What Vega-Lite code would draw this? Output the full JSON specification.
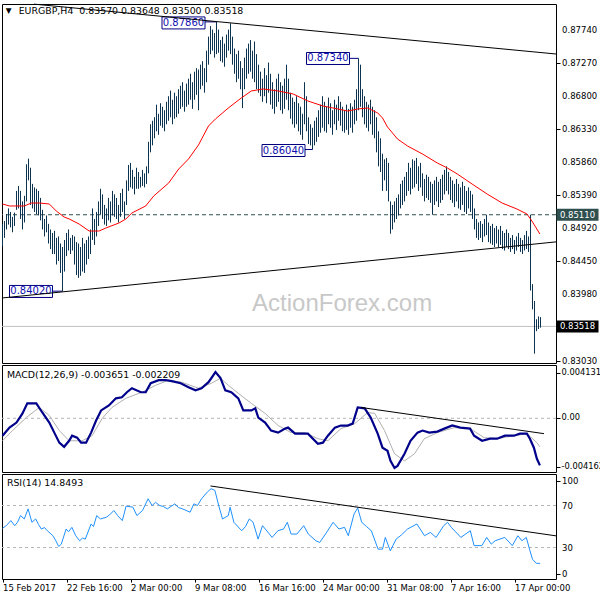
{
"$schema": "https://vega.github.io/schema/vega-lite/v6.json",
"background": "white",
"padding": {"left": -3, "top": 3, "right": 0, "bottom": 0},
"bounds": "flush",
"spacing": 2,
"config": {
  "font": "DejaVu Sans",
  "view": {"stroke": "#000000", "strokeWidth": 1},
  "axis": {"labelFont": "DejaVu Sans", "labelFontSize": 8.5, "labelColor": "#000000", "tickColor": "#000000", "domain": false, "grid": false, "tickSize": 4, "labelPadding": 2, "labelOverlap": false, "labelBound": false}
},
"resolve": {"scale": {"x": "independent", "y": "independent"}},
"datasets": {
  "one": [{"k": 1}],
  "ylab": [{"p":0.8774,"t":"0.87740"},{"p":0.8727,"t":"0.87270"},{"p":0.868,"t":"0.86800"},{"p":0.8633,"t":"0.86330"},{"p":0.8586,"t":"0.85860"},{"p":0.8539,"t":"0.85390"},{"p":0.8492,"t":"0.84920"},{"p":0.8445,"t":"0.84450"},{"p":0.8398,"t":"0.83980"},{"p":0.8303,"t":"0.83030"}],
  "mlab": [{"v":0.00351,"t":"0.004131"},{"v":0,"t":"0.00"},{"v":-0.00378,"t":"-0.004162"}],
  "rlab": [{"v":93,"t":"100"},{"v":70,"t":"70"},{"v":30,"t":"30"},{"v":5,"t":"0"}],
  "bars": [
{"i":0,"h":0.8498,"l":0.8466},{"i":1,"h":0.8502,"l":0.8478},{"i":2,"h":0.8512,"l":0.849},{"i":3,"h":0.852,"l":0.8497},{"i":4,"h":0.8515,"l":0.8493},{"i":5,"h":0.8508,"l":0.8486},{"i":6,"h":0.8514,"l":0.8495},{"i":7,"h":0.8545,"l":0.8518},{"i":8,"h":0.8552,"l":0.852},{"i":9,"h":0.8545,"l":0.8505},
{"i":10,"h":0.853,"l":0.849},{"i":11,"h":0.8538,"l":0.85},{"i":12,"h":0.8583,"l":0.853},{"i":13,"h":0.8591,"l":0.856},{"i":14,"h":0.8578,"l":0.8525},{"i":15,"h":0.8555,"l":0.852},{"i":16,"h":0.855,"l":0.8515},{"i":17,"h":0.8548,"l":0.8512},{"i":18,"h":0.8545,"l":0.851},{"i":19,"h":0.8535,"l":0.8503},
{"i":20,"h":0.8518,"l":0.849},{"i":21,"h":0.8505,"l":0.848},{"i":22,"h":0.851,"l":0.8486},{"i":23,"h":0.8498,"l":0.847},{"i":24,"h":0.849,"l":0.8462},{"i":25,"h":0.8485,"l":0.8455},{"i":26,"h":0.8488,"l":0.8455},{"i":27,"h":0.8478,"l":0.844},{"i":28,"h":0.848,"l":0.8445},{"i":29,"h":0.847,"l":0.8428},
{"i":30,"h":0.8465,"l":0.8402},{"i":31,"h":0.8475,"l":0.843},{"i":32,"h":0.8485,"l":0.8452},{"i":33,"h":0.849,"l":0.846},{"i":34,"h":0.8478,"l":0.8455},{"i":35,"h":0.8482,"l":0.846},{"i":36,"h":0.848,"l":0.844},{"i":37,"h":0.8472,"l":0.8425},{"i":38,"h":0.847,"l":0.8421},{"i":39,"h":0.8465,"l":0.8424},
{"i":40,"h":0.8478,"l":0.843},{"i":41,"h":0.847,"l":0.8428},{"i":42,"h":0.8475,"l":0.844},{"i":43,"h":0.848,"l":0.8448},{"i":44,"h":0.849,"l":0.8455},{"i":45,"h":0.852,"l":0.8475},{"i":46,"h":0.8505,"l":0.8468},{"i":47,"h":0.8515,"l":0.848},{"i":48,"h":0.853,"l":0.8495},{"i":49,"h":0.8548,"l":0.8512},
{"i":50,"h":0.854,"l":0.8505},{"i":51,"h":0.8525,"l":0.8497},{"i":52,"h":0.852,"l":0.8495},{"i":53,"h":0.8535,"l":0.8503},{"i":54,"h":0.853,"l":0.85},{"i":55,"h":0.8545,"l":0.851},{"i":56,"h":0.854,"l":0.8508},{"i":57,"h":0.8535,"l":0.8505},{"i":58,"h":0.8525,"l":0.85},{"i":59,"h":0.8542,"l":0.8508},
{"i":60,"h":0.8548,"l":0.8515},{"i":61,"h":0.853,"l":0.8505},{"i":62,"h":0.856,"l":0.8525},{"i":63,"h":0.8582,"l":0.8545},{"i":64,"h":0.8585,"l":0.855},{"i":65,"h":0.8575,"l":0.8548},{"i":66,"h":0.8565,"l":0.854},{"i":67,"h":0.8578,"l":0.8548},{"i":68,"h":0.8572,"l":0.8548},{"i":69,"h":0.8565,"l":0.855},
{"i":70,"h":0.8575,"l":0.8552},{"i":71,"h":0.857,"l":0.855},{"i":72,"h":0.858,"l":0.8555},{"i":73,"h":0.8615,"l":0.857},{"i":74,"h":0.864,"l":0.86},{"i":75,"h":0.8645,"l":0.861},{"i":76,"h":0.865,"l":0.862},{"i":77,"h":0.8668,"l":0.863},{"i":78,"h":0.8655,"l":0.8625},{"i":79,"h":0.867,"l":0.8638},
{"i":80,"h":0.8665,"l":0.8635},{"i":81,"h":0.866,"l":0.863},{"i":82,"h":0.8672,"l":0.864},{"i":83,"h":0.868,"l":0.8645},{"i":84,"h":0.8688,"l":0.865},{"i":85,"h":0.8675,"l":0.864},{"i":86,"h":0.8685,"l":0.8648},{"i":87,"h":0.868,"l":0.865},{"i":88,"h":0.869,"l":0.8655},{"i":89,"h":0.8695,"l":0.8662},
{"i":90,"h":0.87,"l":0.8665},{"i":91,"h":0.8688,"l":0.8658},{"i":92,"h":0.8698,"l":0.8665},{"i":93,"h":0.8705,"l":0.8668},{"i":94,"h":0.8712,"l":0.8675},{"i":95,"h":0.87,"l":0.8662},{"i":96,"h":0.8715,"l":0.8675},{"i":97,"h":0.872,"l":0.8682},{"i":98,"h":0.8718,"l":0.866},{"i":99,"h":0.8725,"l":0.869},
{"i":100,"h":0.873,"l":0.8695},{"i":101,"h":0.872,"l":0.8685},{"i":102,"h":0.8745,"l":0.87},{"i":103,"h":0.8765,"l":0.8725},{"i":104,"h":0.878,"l":0.874},{"i":105,"h":0.8775,"l":0.8745},{"i":106,"h":0.877,"l":0.8735},{"i":107,"h":0.8786,"l":0.874},{"i":108,"h":0.8775,"l":0.8742},{"i":109,"h":0.876,"l":0.873},
{"i":110,"h":0.8765,"l":0.8728},{"i":111,"h":0.8755,"l":0.8722},{"i":112,"h":0.8768,"l":0.8735},{"i":113,"h":0.8775,"l":0.8745},{"i":114,"h":0.8784,"l":0.874},{"i":115,"h":0.8765,"l":0.8725},{"i":116,"h":0.8748,"l":0.8712},{"i":117,"h":0.874,"l":0.87},{"i":118,"h":0.8745,"l":0.8705},{"i":119,"h":0.873,"l":0.869},
{"i":120,"h":0.872,"l":0.8663},{"i":121,"h":0.8735,"l":0.869},{"i":122,"h":0.8748,"l":0.8705},{"i":123,"h":0.8755,"l":0.8712},{"i":124,"h":0.876,"l":0.8715},{"i":125,"h":0.8745,"l":0.8705},{"i":126,"h":0.8758,"l":0.87},{"i":127,"h":0.874,"l":0.869},{"i":128,"h":0.8725,"l":0.8685},{"i":129,"h":0.8715,"l":0.868},
{"i":130,"h":0.8705,"l":0.8672},{"i":131,"h":0.872,"l":0.868},{"i":132,"h":0.871,"l":0.867},{"i":133,"h":0.8728,"l":0.8685},{"i":134,"h":0.8712,"l":0.8668},{"i":135,"h":0.87,"l":0.8662},{"i":136,"h":0.869,"l":0.8655},{"i":137,"h":0.8705,"l":0.8665},{"i":138,"h":0.8712,"l":0.8672},{"i":139,"h":0.87,"l":0.866},
{"i":140,"h":0.8695,"l":0.8655},{"i":141,"h":0.8705,"l":0.8662},{"i":142,"h":0.8725,"l":0.8675},{"i":143,"h":0.8705,"l":0.866},{"i":144,"h":0.8685,"l":0.8648},{"i":145,"h":0.8678,"l":0.864},{"i":146,"h":0.8672,"l":0.8635},{"i":147,"h":0.868,"l":0.864},{"i":148,"h":0.867,"l":0.863},{"i":149,"h":0.8665,"l":0.8625},
{"i":150,"h":0.8655,"l":0.8618},{"i":151,"h":0.87,"l":0.864},{"i":152,"h":0.868,"l":0.863},{"i":153,"h":0.865,"l":0.8612},{"i":154,"h":0.864,"l":0.861},{"i":155,"h":0.8635,"l":0.8604},{"i":156,"h":0.8645,"l":0.861},{"i":157,"h":0.865,"l":0.8615},{"i":158,"h":0.866,"l":0.8622},{"i":159,"h":0.8668,"l":0.8628},
{"i":160,"h":0.868,"l":0.8635},{"i":161,"h":0.8672,"l":0.863},{"i":162,"h":0.8665,"l":0.8628},{"i":163,"h":0.8678,"l":0.864},{"i":164,"h":0.867,"l":0.8635},{"i":165,"h":0.866,"l":0.8625},{"i":166,"h":0.8675,"l":0.864},{"i":167,"h":0.8668,"l":0.8632},{"i":168,"h":0.868,"l":0.8645},{"i":169,"h":0.8672,"l":0.8638},
{"i":170,"h":0.8665,"l":0.863},{"i":171,"h":0.866,"l":0.8628},{"i":172,"h":0.8668,"l":0.8632},{"i":173,"h":0.8662,"l":0.8625},{"i":174,"h":0.867,"l":0.8635},{"i":175,"h":0.8665,"l":0.8628},{"i":176,"h":0.8675,"l":0.864},{"i":177,"h":0.869,"l":0.8645},{"i":178,"h":0.8734,"l":0.866},{"i":179,"h":0.8725,"l":0.8665},
{"i":180,"h":0.869,"l":0.865},{"i":181,"h":0.868,"l":0.864},{"i":182,"h":0.8672,"l":0.8635},{"i":183,"h":0.8668,"l":0.863},{"i":184,"h":0.8675,"l":0.864},{"i":185,"h":0.8665,"l":0.8625},{"i":186,"h":0.866,"l":0.862},{"i":187,"h":0.865,"l":0.86},{"i":188,"h":0.863,"l":0.858},{"i":189,"h":0.862,"l":0.8572},
{"i":190,"h":0.8598,"l":0.8545},{"i":191,"h":0.859,"l":0.856},{"i":192,"h":0.8592,"l":0.8545},{"i":193,"h":0.8585,"l":0.853},{"i":194,"h":0.853,"l":0.8484},{"i":195,"h":0.8525,"l":0.849},{"i":196,"h":0.853,"l":0.85},{"i":197,"h":0.8535,"l":0.8505},{"i":198,"h":0.854,"l":0.851},{"i":199,"h":0.8555,"l":0.852},
{"i":200,"h":0.856,"l":0.8525},{"i":201,"h":0.8565,"l":0.853},{"i":202,"h":0.8572,"l":0.8538},{"i":203,"h":0.8585,"l":0.8545},{"i":204,"h":0.8578,"l":0.854},{"i":205,"h":0.859,"l":0.8548},{"i":206,"h":0.8588,"l":0.855},{"i":207,"h":0.8592,"l":0.8555},{"i":208,"h":0.858,"l":0.8545},{"i":209,"h":0.8585,"l":0.855},
{"i":210,"h":0.857,"l":0.8538},{"i":211,"h":0.8562,"l":0.853},{"i":212,"h":0.8568,"l":0.8535},{"i":213,"h":0.8565,"l":0.8532},{"i":214,"h":0.8558,"l":0.8528},{"i":215,"h":0.8555,"l":0.8511},{"i":216,"h":0.856,"l":0.8525},{"i":217,"h":0.8565,"l":0.853},{"i":218,"h":0.8558,"l":0.8522},{"i":219,"h":0.8562,"l":0.8528},
{"i":220,"h":0.8568,"l":0.8532},{"i":221,"h":0.8575,"l":0.854},{"i":222,"h":0.858,"l":0.8545},{"i":223,"h":0.8572,"l":0.854},{"i":224,"h":0.8565,"l":0.8532},{"i":225,"h":0.856,"l":0.8528},{"i":226,"h":0.8555,"l":0.8522},{"i":227,"h":0.8562,"l":0.853},{"i":228,"h":0.8555,"l":0.852},{"i":229,"h":0.855,"l":0.8518},
{"i":230,"h":0.8558,"l":0.8525},{"i":231,"h":0.8552,"l":0.8515},{"i":232,"h":0.8545,"l":0.8512},{"i":233,"h":0.855,"l":0.852},{"i":234,"h":0.8545,"l":0.8515},{"i":235,"h":0.854,"l":0.8505},{"i":236,"h":0.852,"l":0.849},{"i":237,"h":0.8505,"l":0.8478},{"i":238,"h":0.85,"l":0.8475},{"i":239,"h":0.8502,"l":0.8478},
{"i":240,"h":0.8498,"l":0.8472},{"i":241,"h":0.8505,"l":0.848},{"i":242,"h":0.8511,"l":0.8482},{"i":243,"h":0.85,"l":0.8472},{"i":244,"h":0.8495,"l":0.847},{"i":245,"h":0.8498,"l":0.8468},{"i":246,"h":0.8492,"l":0.8465},{"i":247,"h":0.8495,"l":0.847},{"i":248,"h":0.849,"l":0.8465},{"i":249,"h":0.8495,"l":0.8468},
{"i":250,"h":0.8488,"l":0.8462},{"i":251,"h":0.8485,"l":0.846},{"i":252,"h":0.849,"l":0.8465},{"i":253,"h":0.8485,"l":0.8462},{"i":254,"h":0.8478,"l":0.8458},{"i":255,"h":0.8482,"l":0.8462},{"i":256,"h":0.8475,"l":0.8455},{"i":257,"h":0.848,"l":0.846},{"i":258,"h":0.8485,"l":0.8465},{"i":259,"h":0.8478,"l":0.8458},
{"i":260,"h":0.8475,"l":0.8455},{"i":261,"h":0.8482,"l":0.846},{"i":262,"h":0.8488,"l":0.8462},{"i":263,"h":0.848,"l":0.8458},{"i":264,"h":0.8511,"l":0.8403},{"i":265,"h":0.8412,"l":0.8376},{"i":266,"h":0.8388,"l":0.8313},{"i":267,"h":0.8362,"l":0.8345},{"i":268,"h":0.8366,"l":0.8348},{"i":269,"h":0.8365,"l":0.835}
  ],
  "ma": [
{"i":0,"p":0.85263},{"i":3.5,"p":0.85235},{"i":10.9,"p":0.85235},{"i":14.4,"p":0.85277},{"i":18.4,"p":0.85277},{"i":23.4,"p":0.85263},{"i":26.9,"p":0.85163},{"i":30.8,"p":0.85078},{"i":33.3,"p":0.8505},{"i":38.3,"p":0.84978},{"i":43.3,"p":0.84878},{"i":48.3,"p":0.84878},{"i":51.7,"p":0.84921},{"i":58.2,"p":0.84992},{"i":61.7,"p":0.8505},{"i":64.7,"p":0.85135},{"i":71.6,"p":0.85235},{"i":75.6,"p":0.85377},{"i":83.1,"p":0.85563},{"i":88.1,"p":0.85762},{"i":93,"p":0.85905},{"i":98,"p":0.86105},{"i":103,"p":0.86376},{"i":106.5,"p":0.86476},{"i":112.9,"p":0.86632},{"i":119.4,"p":0.86775},{"i":124.4,"p":0.86875},{"i":130.3,"p":0.86903},{"i":137.8,"p":0.86875},{"i":145.3,"p":0.86832},{"i":152.7,"p":0.86732},{"i":160.2,"p":0.86661},{"i":167.7,"p":0.86618},{"i":172.6,"p":0.86589},{"i":177.6,"p":0.86618},{"i":182.6,"p":0.86632},{"i":187.6,"p":0.86561},{"i":190,"p":0.8649},{"i":192.5,"p":0.86361},{"i":197.5,"p":0.8619},{"i":202.5,"p":0.8609},{"i":210,"p":0.85976},{"i":217.4,"p":0.85848},{"i":222.4,"p":0.85777},{"i":227.4,"p":0.85691},{"i":234.8,"p":0.85548},{"i":242.3,"p":0.85406},{"i":249.8,"p":0.85277},{"i":257.2,"p":0.85192},{"i":262.2,"p":0.85121},{"i":264.7,"p":0.85021},{"i":268.7,"p":0.84835}
  ],
  "macd": [
{"i":0,"v":-0.00135},{"i":3.5,"v":-0.00072},{"i":7,"v":-0.00033},{"i":10,"v":0.00038},{"i":12.4,"v":0.00116},{"i":16.9,"v":0.00116},{"i":19.9,"v":0.00045},{"i":23.4,"v":-0.00033},{"i":25.9,"v":-0.00111},{"i":28.4,"v":-0.00189},{"i":30.8,"v":-0.00221},{"i":33.3,"v":-0.00174},{"i":34.8,"v":-0.00135},{"i":37.3,"v":-0.0015},{"i":39.3,"v":-0.00189},{"i":41.8,"v":-0.00189},{"i":44.3,"v":-0.00111},{"i":46.8,"v":-0.00017},{"i":49.3,"v":0.00061},{"i":53.2,"v":0.001},{"i":56.7,"v":0.00155},{"i":59.7,"v":0.00163},{"i":62.2,"v":0.00202},{"i":64.7,"v":0.00233},{"i":69.2,"v":0.00202},{"i":71.6,"v":0.00202},{"i":74.1,"v":0.00272},{"i":78.1,"v":0.00296},{"i":81.6,"v":0.00296},{"i":84.6,"v":0.00288},{"i":89.1,"v":0.00272},{"i":93,"v":0.00241},{"i":96.5,"v":0.00217},{"i":99.5,"v":0.00233},{"i":103,"v":0.0028},{"i":106.5,"v":0.00358},{"i":109,"v":0.00311},{"i":111.4,"v":0.00217},{"i":114.4,"v":0.00202},{"i":117.9,"v":0.00155},{"i":120.4,"v":0.00061},{"i":124.4,"v":0.00061},{"i":126.4,"v":0.00077},{"i":127.9,"v":0.00006},{"i":131.3,"v":-0.00033},{"i":134.3,"v":-0.00095},{"i":137.8,"v":-0.00111},{"i":141.3,"v":-0.0008},{"i":142.8,"v":-0.00072},{"i":146.3,"v":-0.00119},{"i":152.7,"v":-0.00119},{"i":157.7,"v":-0.00197},{"i":160.2,"v":-0.00189},{"i":162.7,"v":-0.00135},{"i":166.2,"v":-0.00072},{"i":169.2,"v":-0.00056},{"i":172.6,"v":-0.00056},{"i":175.1,"v":-0.00041},{"i":177.6,"v":0.00084},{"i":181.1,"v":0.00077},{"i":184.1,"v":0.00006},{"i":187.6,"v":-0.00119},{"i":190,"v":-0.00228},{"i":192.5,"v":-0.00252},{"i":194,"v":-0.0033},{"i":196,"v":-0.00385},{"i":197.5,"v":-0.00369},{"i":201,"v":-0.00275},{"i":204,"v":-0.00174},{"i":207.5,"v":-0.00111},{"i":210,"v":-0.00095},{"i":213.4,"v":-0.00111},{"i":217.4,"v":-0.00103},{"i":220.9,"v":-0.0008},{"i":224.9,"v":-0.00056},{"i":228.9,"v":-0.00072},{"i":233.8,"v":-0.0008},{"i":235.8,"v":-0.00135},{"i":239.8,"v":-0.00174},{"i":243.8,"v":-0.00158},{"i":247.3,"v":-0.00158},{"i":251.2,"v":-0.00135},{"i":255.7,"v":-0.00135},{"i":258.7,"v":-0.00119},{"i":262.2,"v":-0.00119},{"i":263.7,"v":-0.00158},{"i":265.7,"v":-0.00228},{"i":267.2,"v":-0.00314},{"i":268.7,"v":-0.00365}
  ],
  "sig": [
{"i":0,"v":-0.00174},{"i":5,"v":-0.00095},{"i":11.9,"v":0.00006},{"i":18.4,"v":0.00084},{"i":23.4,"v":0.00022},{"i":28.4,"v":-0.00095},{"i":33.3,"v":-0.00174},{"i":39.8,"v":-0.00174},{"i":44.8,"v":-0.00135},{"i":49.8,"v":-0.00002},{"i":54.7,"v":0.00084},{"i":61.7,"v":0.00155},{"i":69.7,"v":0.00202},{"i":76.6,"v":0.00256},{"i":83.1,"v":0.00296},{"i":89.6,"v":0.0028},{"i":98,"v":0.00233},{"i":104.5,"v":0.00272},{"i":109,"v":0.00311},{"i":112.9,"v":0.00256},{"i":117.9,"v":0.00194},{"i":124.4,"v":0.00116},{"i":131.3,"v":0.00038},{"i":137.8,"v":-0.00056},{"i":144.3,"v":-0.00111},{"i":151.2,"v":-0.00111},{"i":157.7,"v":-0.00158},{"i":162.7,"v":-0.00174},{"i":169.2,"v":-0.0008},{"i":176.1,"v":-0.00041},{"i":182.6,"v":0.00045},{"i":186.1,"v":0.00038},{"i":191,"v":-0.00095},{"i":196,"v":-0.00275},{"i":201,"v":-0.0033},{"i":206,"v":-0.00275},{"i":210.9,"v":-0.00158},{"i":217.4,"v":-0.00111},{"i":225.9,"v":-0.00072},{"i":233.8,"v":-0.0008},{"i":240.8,"v":-0.0015},{"i":247.3,"v":-0.00158},{"i":255.7,"v":-0.00135},{"i":262.2,"v":-0.00119},{"i":267.2,"v":-0.00189},{"i":268.7,"v":-0.00221}
  ],
  "rsi": [
{"i":0,"v":48.3},{"i":2,"v":51},{"i":4.2,"v":55.6},{"i":6.1,"v":50.8},{"i":7.5,"v":54},{"i":9,"v":60.4},{"i":10.9,"v":57.2},{"i":12.8,"v":66.8},{"i":14.7,"v":54},{"i":16.6,"v":57.2},{"i":18,"v":52},{"i":19.4,"v":47.6},{"i":21,"v":49},{"i":22.4,"v":46},{"i":25.2,"v":41.2},{"i":26.5,"v":37},{"i":28.1,"v":31},{"i":29.4,"v":33.2},{"i":31.8,"v":47.6},{"i":33,"v":45},{"i":34.7,"v":49.2},{"i":36.6,"v":41.2},{"i":38.6,"v":36.4},{"i":40,"v":39},{"i":41.4,"v":38},{"i":44.3,"v":52.4},{"i":45.5,"v":50},{"i":47.1,"v":60.4},{"i":49,"v":57.2},{"i":51.9,"v":58.8},{"i":53.5,"v":61},{"i":55.7,"v":65.2},{"i":57.6,"v":60.4},{"i":59.9,"v":55.6},{"i":61.8,"v":69.4},{"i":65.2,"v":68.4},{"i":67.2,"v":60.4},{"i":70,"v":65.2},{"i":72.8,"v":76.4},{"i":74.8,"v":70},{"i":76.5,"v":73},{"i":78.6,"v":70},{"i":80.5,"v":69},{"i":82.4,"v":66.8},{"i":86.2,"v":71.6},{"i":88,"v":68},{"i":90,"v":66.8},{"i":93.8,"v":63.6},{"i":95.7,"v":71.6},{"i":97.5,"v":70},{"i":99.5,"v":76.4},{"i":102.4,"v":82.8},{"i":104.3,"v":86},{"i":106.2,"v":84.4},{"i":108.1,"v":70},{"i":110,"v":57.2},{"i":112.9,"v":60.4},{"i":113.8,"v":68.4},{"i":115.7,"v":54},{"i":119.6,"v":46},{"i":121.5,"v":50},{"i":123.4,"v":57.2},{"i":125.3,"v":54},{"i":127.8,"v":38},{"i":130,"v":50.8},{"i":132.8,"v":44.4},{"i":134.8,"v":39.6},{"i":137.7,"v":46},{"i":140.5,"v":47.6},{"i":142.4,"v":54},{"i":144.3,"v":42.8},{"i":147.2,"v":42.8},{"i":150.6,"v":50.8},{"i":152.9,"v":42.8},{"i":156.7,"v":36.4},{"i":158.6,"v":34.8},{"i":161.5,"v":42.8},{"i":165.3,"v":54},{"i":168.2,"v":47.6},{"i":171,"v":49.2},{"i":172.9,"v":41.2},{"i":175.8,"v":62},{"i":177.6,"v":67.6},{"i":179.6,"v":54},{"i":182,"v":50},{"i":184.4,"v":46},{"i":187.8,"v":28.4},{"i":190,"v":28.4},{"i":191.4,"v":39.6},{"i":193.9,"v":26.8},{"i":196.8,"v":38},{"i":199.5,"v":42},{"i":202.5,"v":47.6},{"i":207.2,"v":52.4},{"i":211,"v":41.2},{"i":213.9,"v":44.4},{"i":216.8,"v":39.6},{"i":220.6,"v":50.8},{"i":222.5,"v":54},{"i":224.4,"v":49.2},{"i":229.2,"v":39.6},{"i":233.9,"v":46},{"i":235.8,"v":31.8},{"i":239.7,"v":31.8},{"i":242.1,"v":39.6},{"i":244.4,"v":33.2},{"i":246.3,"v":36.4},{"i":251.1,"v":39.6},{"i":254.9,"v":31.8},{"i":257.7,"v":41.2},{"i":259.7,"v":36.4},{"i":261.9,"v":39.6},{"i":263.5,"v":28.4},{"i":265,"v":18.8},{"i":266.9,"v":15},{"i":268.8,"v":14.85}
  ],
  "trend": [{"i":15.75,"p":0.88113,"i2":276.75,"p2":0.87402},{"i":-0.25,"p":0.83923,"i2":276.75,"p2":0.84723}],
  "tags": [{"i":90.5,"p":0.87845,"t":"0.87860"},{"i":162.75,"p":0.87338,"t":"0.87340"},{"i":140.5,"p":0.86026,"t":"0.86040"},{"i":14.25,"p":0.84016,"t":"0.84020"}],
  "links": [{"i":101.25,"i2":107,"p":0.8786},{"i":173.75,"i2":178,"p":0.8734},{"i":151.25,"i2":155,"p":0.8604},{"i":24.75,"i2":30,"p":0.8402}],
  "macdtrend": [{"i":179.25,"v":0.00084,"i2":270.75,"v2":-0.00119}],
  "rsitrend": [{"i":104,"v":88.6,"i2":276.75,"v2":41.1}]
},
"vconcat": [
{
  "width": 554, "height": 359,
  "layer": [
    {"data": {"name": "bars"},
     "mark": {"type": "rule", "color": "#0c3350", "strokeWidth": 1, "opacity": 0},
     "encoding": {"x": {"field": "i", "type": "quantitative", "scale": {"domain": [-0.25, 276.75], "nice": false, "zero": false}, "axis": null},
                  "y": {"field": "l", "type": "quantitative", "title": null, "scale": {"domain": [0.82996, 0.88115], "nice": false, "zero": false},
                        "axis": {"orient": "right", "title": null, "values": [0.8774, 0.8727, 0.868, 0.8633, 0.8586, 0.8539, 0.8492, 0.8445, 0.8398, 0.8303], "labels": false}},
                  "y2": {"field": "h"}}},
    {"data": {"name": "one"},
     "mark": {"type": "text", "text": "ActionForex.com", "font": "Liberation Sans", "fontSize": 24, "color": "#c8c8c8", "align": "center", "baseline": "alphabetic"},
     "encoding": {"x": {"datum": 169.8, "type": "quantitative", "axis": null},
                  "y": {"datum": 0.83737, "type": "quantitative"}}},
    {"data": {"name": "one"},
     "mark": {"type": "rule", "color": "#c0c0c0", "strokeWidth": 1},
     "encoding": {"y": {"datum": 0.83518, "type": "quantitative"}}},
    {"data": {"name": "one"},
     "mark": {"type": "rule", "color": "#2f4f4f", "strokeWidth": 1, "strokeDash": [4, 3]},
     "encoding": {"y": {"datum": 0.8511, "type": "quantitative"}}},
    {"data": {"name": "bars"},
     "mark": {"type": "rule", "color": "#0c3350", "strokeWidth": 1},
     "encoding": {"x": {"field": "i", "type": "quantitative", "axis": null},
                  "y": {"field": "l", "type": "quantitative", "title": null},
                  "y2": {"field": "h"}}},
    {"data": {"name": "ma"},
     "mark": {"type": "line", "color": "#ff0000", "strokeWidth": 1},
     "encoding": {"x": {"field": "i", "type": "quantitative", "axis": null},
                  "y": {"field": "p", "type": "quantitative", "title": null}}},
    {"data": {"name": "links"},
     "mark": {"type": "rule", "color": "#000080", "strokeWidth": 1},
     "encoding": {"x": {"field": "i", "type": "quantitative", "axis": null}, "x2": {"field": "i2"},
                  "y": {"field": "p", "type": "quantitative", "title": null}}},
    {"data": {"name": "tags"},
     "mark": {"type": "rect", "width": 43, "height": 12, "fill": "#ffffff", "stroke": "#000080", "strokeWidth": 1},
     "encoding": {"x": {"field": "i", "type": "quantitative", "axis": null},
                  "y": {"field": "p", "type": "quantitative", "title": null}}},
    {"data": {"name": "tags"},
     "mark": {"type": "text", "font": "DejaVu Sans", "fontSize": 10, "color": "#1010b0", "align": "center", "baseline": "middle"},
     "encoding": {"x": {"field": "i", "type": "quantitative", "axis": null},
                  "y": {"field": "p", "type": "quantitative", "title": null},
                  "text": {"field": "t"}}},
    {"data": {"name": "trend"},
     "mark": {"type": "rule", "color": "#000000", "strokeWidth": 1},
     "encoding": {"x": {"field": "i", "type": "quantitative", "axis": null}, "x2": {"field": "i2"},
                  "y": {"field": "p", "type": "quantitative", "title": null}, "y2": {"field": "p2"}}},
    {"data": {"name": "one"},
     "mark": {"type": "text", "text": "▼", "fontSize": 7.5, "color": "#000000", "align": "left", "baseline": "middle"},
     "encoding": {"x": {"datum": 1.6, "type": "quantitative", "axis": null},
                  "y": {"datum": 0.88015, "type": "quantitative"}}},
    {"data": {"name": "one"},
     "mark": {"type": "text", "text": "EURGBP,H4\u00a0 0.83570 0.83648 0.83500 0.83518", "font": "DejaVu Sans", "fontSize": 9.4, "color": "#000000", "align": "left", "baseline": "middle"},
     "encoding": {"x": {"datum": 8.1, "type": "quantitative", "axis": null},
                  "y": {"datum": 0.88015, "type": "quantitative"}}},
    {"data": {"name": "ylab"},
     "mark": {"type": "text", "font": "DejaVu Sans", "fontSize": 8.5, "color": "#000000", "align": "left", "baseline": "middle"},
     "encoding": {"x": {"datum": 279.8, "type": "quantitative", "axis": null},
                  "y": {"field": "p", "type": "quantitative", "title": null},
                  "text": {"field": "t"}}},
    {"data": {"name": "one"},
     "mark": {"type": "rect", "width": 42, "height": 12, "fill": "#2f4f4f"},
     "encoding": {"x": {"datum": 287.5, "type": "quantitative", "axis": null},
                  "y": {"datum": 0.8511, "type": "quantitative"}}},
    {"data": {"name": "one"},
     "mark": {"type": "text", "text": "0.85110", "font": "DejaVu Sans", "fontSize": 8.5, "color": "#ffffff", "align": "center", "baseline": "middle"},
     "encoding": {"x": {"datum": 287.5, "type": "quantitative", "axis": null},
                  "y": {"datum": 0.8511, "type": "quantitative"}}},
    {"data": {"name": "one"},
     "mark": {"type": "rect", "width": 42, "height": 12, "fill": "#000000"},
     "encoding": {"x": {"datum": 287.5, "type": "quantitative", "axis": null},
                  "y": {"datum": 0.83518, "type": "quantitative"}}},
    {"data": {"name": "one"},
     "mark": {"type": "text", "text": "0.83518", "font": "DejaVu Sans", "fontSize": 8.5, "color": "#ffffff", "align": "center", "baseline": "middle"},
     "encoding": {"x": {"datum": 287.5, "type": "quantitative", "axis": null},
                  "y": {"datum": 0.83518, "type": "quantitative"}}}
  ]
},
{
  "width": 554, "height": 107,
  "layer": [
    {"data": {"name": "macd"},
     "mark": {"type": "line", "color": "#00008b", "strokeWidth": 1, "opacity": 0},
     "encoding": {"x": {"field": "i", "type": "quantitative", "scale": {"domain": [-0.25, 276.75], "nice": false, "zero": false}, "axis": null},
                  "y": {"field": "v", "type": "quantitative", "title": null, "scale": {"domain": [-0.004162, 0.004131], "nice": false, "zero": false},
                        "axis": {"orient": "right", "title": null, "values": [0.00351, 0, -0.00378], "labels": false}}}},
    {"data": {"name": "one"},
     "mark": {"type": "rule", "color": "#b4b4b4", "strokeWidth": 1, "strokeDash": [3, 3]},
     "encoding": {"y": {"datum": 0, "type": "quantitative"}}},
    {"data": {"name": "sig"},
     "mark": {"type": "line", "color": "#b0b0b0", "strokeWidth": 1},
     "encoding": {"x": {"field": "i", "type": "quantitative", "axis": null},
                  "y": {"field": "v", "type": "quantitative", "title": null}}},
    {"data": {"name": "macd"},
     "mark": {"type": "line", "color": "#00008b", "strokeWidth": 2.2},
     "encoding": {"x": {"field": "i", "type": "quantitative", "axis": null},
                  "y": {"field": "v", "type": "quantitative", "title": null}}},
    {"data": {"name": "macdtrend"},
     "mark": {"type": "rule", "color": "#000000", "strokeWidth": 1},
     "encoding": {"x": {"field": "i", "type": "quantitative", "axis": null}, "x2": {"field": "i2"},
                  "y": {"field": "v", "type": "quantitative", "title": null}, "y2": {"field": "v2"}}},
    {"data": {"name": "mlab"},
     "mark": {"type": "text", "font": "DejaVu Sans", "fontSize": 8.3, "color": "#000000", "align": "left", "baseline": "middle"},
     "encoding": {"x": {"datum": 279.5, "type": "quantitative", "axis": null},
                  "y": {"field": "v", "type": "quantitative", "title": null},
                  "text": {"field": "t"}}},
    {"data": {"name": "one"},
     "mark": {"type": "text", "text": "MACD(12,26,9) -0.003651 -0.002209", "font": "DejaVu Sans", "fontSize": 9.4, "color": "#000000", "align": "left", "baseline": "middle"},
     "encoding": {"x": {"datum": 2.2, "type": "quantitative", "axis": null},
                  "y": {"datum": 0.00335, "type": "quantitative"}}}
  ]
},
{
  "width": 554, "height": 105,
  "layer": [
    {"data": {"name": "rsi"},
     "mark": {"type": "line", "color": "#1e90ff", "strokeWidth": 1, "opacity": 0},
     "encoding": {"x": {"field": "i", "type": "quantitative", "title": null, "scale": {"domain": [-0.25, 276.75], "nice": false, "zero": false},
                        "axis": {"title": null, "values": [0, 32, 64, 96, 128, 160, 192, 224, 256], "labelExpr": "datum.value == 0 ? '15 Feb 2017' : datum.value == 32 ? '22 Feb 16:00' : datum.value == 64 ? '2 Mar 00:00' : datum.value == 96 ? '9 Mar 08:00' : datum.value == 128 ? '16 Mar 16:00' : datum.value == 160 ? '24 Mar 00:00' : datum.value == 192 ? '31 Mar 08:00' : datum.value == 224 ? '7 Apr 16:00' : '17 Apr 00:00'", "labelAlign": "left", "labelFlush": false, "labelOverlap": false, "tickSize": 3, "labelPadding": 1}},
                  "y": {"field": "v", "type": "quantitative", "title": null, "scale": {"domain": [0, 100], "nice": false, "zero": false},
                        "axis": {"orient": "right", "title": null, "values": [93, 70, 30, 5], "labels": false}}}},
    {"data": {"name": "one"},
     "mark": {"type": "rule", "color": "#b4b4b4", "strokeWidth": 1, "strokeDash": [3, 3]},
     "encoding": {"y": {"datum": 70, "type": "quantitative"}}},
    {"data": {"name": "one"},
     "mark": {"type": "rule", "color": "#b4b4b4", "strokeWidth": 1, "strokeDash": [3, 3]},
     "encoding": {"y": {"datum": 30, "type": "quantitative"}}},
    {"data": {"name": "rsi"},
     "mark": {"type": "line", "color": "#1e90ff", "strokeWidth": 1},
     "encoding": {"x": {"field": "i", "type": "quantitative", "title": null},
                  "y": {"field": "v", "type": "quantitative", "title": null}}},
    {"data": {"name": "rsitrend"},
     "mark": {"type": "rule", "color": "#000000", "strokeWidth": 1},
     "encoding": {"x": {"field": "i", "type": "quantitative", "title": null}, "x2": {"field": "i2"},
                  "y": {"field": "v", "type": "quantitative", "title": null}, "y2": {"field": "v2"}}},
    {"data": {"name": "rlab"},
     "mark": {"type": "text", "font": "DejaVu Sans", "fontSize": 8.5, "color": "#000000", "align": "left", "baseline": "middle"},
     "encoding": {"x": {"datum": 279.8, "type": "quantitative", "title": null},
                  "y": {"field": "v", "type": "quantitative", "title": null},
                  "text": {"field": "t"}}},
    {"data": {"name": "one"},
     "mark": {"type": "text", "text": "RSI(14) 14.8493", "font": "DejaVu Sans", "fontSize": 9.4, "color": "#000000", "align": "left", "baseline": "middle"},
     "encoding": {"x": {"datum": 2.2, "type": "quantitative"},
                  "y": {"datum": 91, "type": "quantitative"}}}
  ]
}
]
}
